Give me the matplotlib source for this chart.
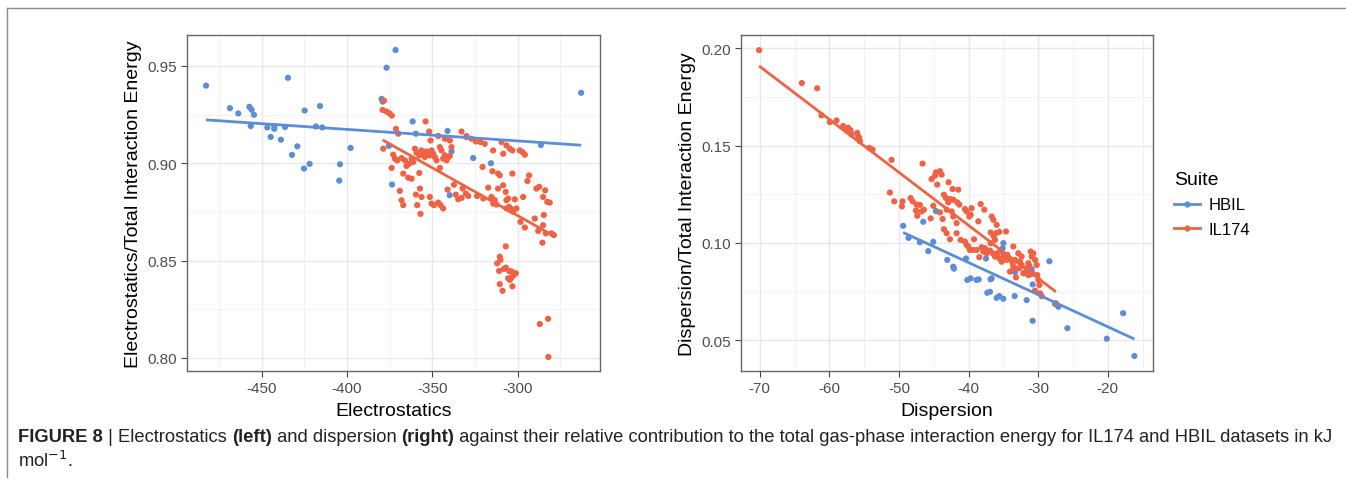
import numpy as np
import matplotlib
matplotlib.use("Agg")
import matplotlib.pyplot as plt
from matplotlib.lines import Line2D

# HBIL, electrostatics panel
hbil_elec = [-482.6, -468.6, -463.7, -457.2, -455.9, -454.5, -456.4, -446.7, -442.6, -442.6,
             -436.3, -444.7, -438.7, -429.1, -432.2, -425.2, -421.9, -424.8, -415.8, -418.2,
             -414.5, -404.1, -404.5, -397.9, -434.6, -379.7, -379.1, -375.4, -373.6, -376.8,
             -371.5, -361.5, -359.6, -341.0, -338.7, -329.9, -326.0, -315.6, -286.3, -262.7,
             -339.8]
hbil_elec_ratio = [0.9399, 0.9283, 0.9256, 0.9290, 0.9275, 0.9249, 0.9191, 0.9184, 0.9191, 0.9177,
                   0.9186, 0.9135, 0.9121, 0.9087, 0.9043, 0.8973, 0.8997, 0.9271, 0.9294, 0.9189,
                   0.9184, 0.8995, 0.8911, 0.9079, 0.9439, 0.9331, 0.9317, 0.9089, 0.8891, 0.9491,
                   0.9582, 0.9215, 0.9152, 0.9166, 0.9061, 0.9140, 0.9027, 0.9000, 0.9094, 0.9362,
                   0.8836]

# IL174, electrostatics panel
il_elec = [-378.3, -379.1, -376.8, -375.2, -373.7, -371.3, -369.9, -378.7, -353.9, -351.8,
           -351.0, -346.5, -342.6, -339.7, -338.7, -332.8, -329.9, -327.0, -324.4, -321.7,
           -319.2, -314.3, -309.4, -308.4, -306.5, -304.5, -303.0, -298.7, -297.1, -295.7,
           -372.9, -371.9, -370.5, -368.0, -366.0, -365.1, -363.5, -362.1, -361.2, -360.2,
           -359.2, -357.6, -356.3, -355.3, -354.3, -353.3, -352.4, -351.4, -350.4, -349.4,
           -348.5, -347.5, -345.5, -344.6, -343.6, -342.6, -341.6, -340.6, -339.7, -345.5,
           -357.6, -367.0, -364.1, -362.1, -373.8, -369.0, -368.0, -367.0, -359.6, -357.2,
           -356.3, -358.8, -356.9, -351.4, -350.4, -349.0, -346.5, -345.1, -343.6, -341.0,
           -337.3, -336.2, -334.8, -332.8, -332.2, -330.3, -328.9, -323.7, -320.5, -320.1,
           -317.2, -315.3, -314.3, -313.3, -312.3, -314.7, -311.4, -310.4, -311.4, -308.4,
           -306.9, -306.5, -305.5, -304.9, -304.1, -303.5, -302.6, -303.0, -301.6, -300.6,
           -306.5, -298.3, -296.7, -295.7, -294.2, -293.2, -289.9, -288.9, -287.3, -287.9,
           -284.6, -285.0, -285.4, -283.8, -285.0, -283.4, -282.6, -281.1, -280.1, -278.7,
           -306.9, -310.4, -310.0, -311.9, -310.8, -308.0, -306.9, -304.9, -303.5, -302.2,
           -301.0, -305.5, -304.5, -303.5, -310.4, -308.8, -303.0, -286.9, -282.1, -281.9]
il_elec_ratio = [0.9322, 0.9274, 0.9266, 0.9257, 0.9245, 0.9177, 0.9152, 0.9075, 0.9215, 0.9163,
                 0.9117, 0.9140, 0.9126, 0.9117, 0.9083, 0.9163, 0.9134, 0.9126, 0.9112, 0.9109,
                 0.9100, 0.9066, 0.9109, 0.9049, 0.9092, 0.9075, 0.9066, 0.9066, 0.9058, 0.9044,
                 0.9044, 0.9024, 0.9015, 0.9027, 0.9015, 0.8986, 0.8998, 0.9024, 0.9006, 0.9075,
                 0.9054, 0.9041, 0.9066, 0.9049, 0.9032, 0.9061, 0.9049, 0.9041, 0.9066, 0.9049,
                 0.9032, 0.9015, 0.9083, 0.9066, 0.9024, 0.9041, 0.9015, 0.9032, 0.9037, 0.8976,
                 0.8950, 0.8947, 0.8926, 0.8921, 0.8976, 0.8858, 0.8810, 0.8785, 0.8839, 0.8870,
                 0.8827, 0.8785, 0.8740, 0.8827, 0.8793, 0.8785, 0.8798, 0.8785, 0.8768, 0.8865,
                 0.8890, 0.8839, 0.8815, 0.8822, 0.8870, 0.8844, 0.8832, 0.8832, 0.8981, 0.8819,
                 0.8875, 0.8827, 0.8793, 0.8810, 0.8788, 0.8959, 0.8947, 0.8938, 0.8870, 0.8887,
                 0.8853, 0.8810, 0.8819, 0.8776, 0.8759, 0.8764, 0.8751, 0.8947, 0.8815, 0.8768,
                 0.8768, 0.8699, 0.8827, 0.8670, 0.8909, 0.8938, 0.8716, 0.8870, 0.8879, 0.8652,
                 0.8734, 0.8682, 0.8592, 0.8861, 0.8827, 0.8640, 0.8802, 0.8798, 0.8640, 0.8631,
                 0.8573, 0.8520, 0.8503, 0.8486, 0.8447, 0.8457, 0.8464, 0.8447, 0.8444, 0.8426,
                 0.8435, 0.8409, 0.8401, 0.8413, 0.8379, 0.8345, 0.8368, 0.8174, 0.8201, 0.8005]

# HBIL, dispersion panel
hbil_disp = [-49.39, -48.62, -46.99, -46.51, -45.79, -45.07, -44.69, -43.06, -42.20, -42.10,
             -40.37, -40.18, -39.70, -38.84, -38.55, -37.50, -37.31, -36.92, -36.83, -36.68,
             -35.96, -35.58, -35.00, -35.00, -35.10, -34.91, -33.37, -33.33, -33.33, -31.65,
             -31.74, -30.93, -31.07, -30.79, -30.79, -28.39, -27.57, -27.09, -25.80, -20.14,
             -17.79, -16.17]
hbil_disp_ratio = [0.1088, 0.1026, 0.1004, 0.1109, 0.0958, 0.1006, 0.1164, 0.0913, 0.0878, 0.0868,
                   0.0920, 0.0810, 0.0818, 0.0810, 0.0813, 0.0920, 0.0744, 0.0749, 0.0813, 0.0818,
                   0.0718, 0.0727, 0.0713, 0.0999, 0.0973, 0.0939, 0.0727, 0.0849, 0.0861, 0.0706,
                   0.0853, 0.0865, 0.0839, 0.0787, 0.0600, 0.0906, 0.0686, 0.0672, 0.0562, 0.0508,
                   0.0639, 0.0419]

# IL174, dispersion panel
il_disp = [-70.10, -63.96, -61.75, -61.13, -59.93, -58.97, -58.02, -57.63, -57.30, -56.96,
           -56.82, -56.00, -55.86, -55.62, -55.71, -54.28, -53.80, -51.06, -46.61, -51.30,
           -50.68, -49.58, -49.48, -48.33, -48.04, -47.47, -46.99, -47.56, -46.75, -46.41,
           -47.37, -45.45, -45.07, -44.83, -44.69, -44.11, -43.87, -45.31, -44.50, -44.11,
           -43.73, -43.54, -43.15, -42.87, -42.29, -41.48, -43.54, -43.25, -42.67, -42.91,
           -42.20, -41.62, -41.33, -43.15, -42.43, -42.20, -41.72, -42.67, -41.72, -41.14,
           -40.52, -40.28, -40.04, -39.80, -40.52, -40.28, -39.89, -39.70, -39.56, -39.22,
           -39.32, -38.84, -38.60, -38.26, -37.74, -38.46, -38.12, -37.88, -37.64, -37.40,
           -36.92, -36.68, -36.44, -36.83, -36.44, -36.20, -36.06, -36.83, -36.54, -36.20,
           -35.87, -35.58, -35.24, -35.48, -35.10, -35.58, -34.62, -35.96, -34.91, -34.52,
           -34.43, -34.05, -33.66, -33.57, -33.57, -33.18, -34.05, -33.33, -32.85, -32.61,
           -32.37, -32.13, -31.65, -31.41, -31.07, -30.93, -30.69, -30.45, -30.21, -30.12,
           -29.97, -29.83, -29.73, -29.49, -30.45, -31.41, -31.27, -30.79, -32.37, -33.33,
           -32.70, -27.45]
il_disp_ratio = [0.1991, 0.1822, 0.1795, 0.1656, 0.1621, 0.1630, 0.1601, 0.1584, 0.1592, 0.1579,
                 0.1558, 0.1566, 0.1549, 0.1523, 0.1541, 0.1489, 0.1480, 0.1427, 0.1408, 0.1259,
                 0.1214, 0.1188, 0.1214, 0.1231, 0.1214, 0.1197, 0.1195, 0.1167, 0.1162, 0.1171,
                 0.1140, 0.1126, 0.1191, 0.1346, 0.1363, 0.1369, 0.1351, 0.1329, 0.1300, 0.1157,
                 0.1123, 0.1071, 0.1050, 0.1312, 0.1277, 0.1274, 0.1248, 0.1231, 0.1226, 0.1209,
                 0.1222, 0.1209, 0.1197, 0.1171, 0.1162, 0.1136, 0.1102, 0.1019, 0.1050, 0.1016,
                 0.1007, 0.0990, 0.0982, 0.0964, 0.1174, 0.1162, 0.1136, 0.1145, 0.1179, 0.1019,
                 0.0964, 0.0964, 0.1111, 0.1200, 0.1171, 0.0927, 0.0978, 0.0956, 0.0973, 0.0947,
                 0.0961, 0.1136, 0.1119, 0.1054, 0.1037, 0.1016, 0.1050, 0.0999, 0.0947, 0.0930,
                 0.0947, 0.0921, 0.0904, 0.0956, 0.0921, 0.1057, 0.1059, 0.1093, 0.0930, 0.0913,
                 0.0939, 0.0916, 0.0896, 0.0878, 0.0982, 0.0823, 0.0853, 0.0913, 0.0947, 0.0904,
                 0.0887, 0.0844, 0.0870, 0.0835, 0.0956, 0.0930, 0.0947, 0.0913, 0.0887, 0.0835,
                 0.0810, 0.0784, 0.0741, 0.0727, 0.0755, 0.0896, 0.0882, 0.0844, 0.0930, 0.0870,
                 0.0870, 0.0690]

suites = ["HBIL", "IL174"]
colours = {"HBIL": "#5B8ED6", "IL174": "#EF6244"}

plt.rcParams['font.family'] = ['Liberation Sans', 'DejaVu Sans']

fig = plt.figure(figsize=(13.46, 5.02), dpi=100)


def style_axes(ax, xticks, yticks, xminor, yminor, xlim, ylim, ytickfmt):
    ax.set_xlim(xlim)
    ax.set_ylim(ylim)
    ax.set_xticks(xticks)
    ax.set_yticks(yticks)
    ax.set_xticks(xminor, minor=True)
    ax.set_yticks(yminor, minor=True)
    ax.set_yticklabels([ytickfmt % v for v in yticks])
    ax.set_xticklabels(["%d" % v for v in xticks])
    ax.grid(True, which="major", color="#E6E8EE", lw=1.0)
    ax.grid(True, which="minor", color="#EFF0F4", lw=0.6)
    ax.set_axisbelow(True)
    ax.tick_params(which="major", length=4, width=0.8, color="#444444",
                   labelsize=11, labelcolor="#4D4D4D", pad=3)
    ax.tick_params(which="minor", length=0)
    for s in ax.spines.values():
        s.set_color("#666666")
        s.set_linewidth(1.0)


def scatter_fit(ax, x, y, colour):
    x = np.asarray(x)
    y = np.asarray(y)
    ax.scatter(x, y, s=20, color=colour, edgecolors="none", zorder=3)
    k, b = np.polyfit(x, y, 1)
    xs = np.array([x.min(), x.max()])
    ax.plot(xs, k * xs + b, color=colour, lw=2.0, zorder=4, solid_capstyle="butt")


ax1 = fig.add_axes([0.1389, 0.2590, 0.3068, 0.6693])
style_axes(ax1, [-450, -400, -350, -300], [0.80, 0.85, 0.90, 0.95],
           [-475, -425, -375, -325, -275], [0.825, 0.875, 0.925],
           (-493.8, -251.7), (0.7933, 0.9659), "%.2f")
scatter_fit(ax1, hbil_elec, hbil_elec_ratio, colours["HBIL"])
scatter_fit(ax1, il_elec, il_elec_ratio, colours["IL174"])
ax1.set_xlabel("Electrostatics", fontsize=14, labelpad=5)
ax1.set_ylabel("Electrostatics/Total Interaction Energy", fontsize=14, labelpad=4)

ax2 = fig.add_axes([0.5505, 0.2590, 0.3061, 0.6693])
style_axes(ax2, [-70, -60, -50, -40, -30, -20], [0.05, 0.10, 0.15, 0.20],
           [-65, -55, -45, -35, -25, -15], [0.075, 0.125, 0.175],
           (-72.7, -13.5), (0.0342, 0.2069), "%.2f")
scatter_fit(ax2, hbil_disp, hbil_disp_ratio, colours["HBIL"])
scatter_fit(ax2, il_disp, il_disp_ratio, colours["IL174"])
ax2.set_xlabel("Dispersion", fontsize=14, labelpad=5)
ax2.set_ylabel("Dispersion/Total Interaction Energy", fontsize=14, labelpad=4)

handles = [Line2D([0], [0], color=colours[s], lw=2.0, marker="o", markersize=4.5,
                  markeredgewidth=0) for s in suites]
leg = fig.legend(handles, suites, title="Suite", loc="upper left",
                 bbox_to_anchor=(0.867, 0.67), frameon=False, fontsize=12,
                 title_fontsize=14, handlelength=1.6, handletextpad=0.5,
                 labelspacing=0.55, borderaxespad=0)
leg._legend_box.align = "left"

# figure frame (top and left rules)
fig.add_artist(Line2D([7 / 1346, 7 / 1346], [1 - 9 / 502, 1 - 478 / 502],
                      transform=fig.transFigure, color="#8A8A8A", lw=1.0))
fig.add_artist(Line2D([7 / 1346, 1.0], [1 - 9 / 502, 1 - 9 / 502],
                      transform=fig.transFigure, color="#8A8A8A", lw=1.0))

# caption, pieces chained left to right
cap_font = ['Liberation Sans Narrow', 'Liberation Sans', 'DejaVu Sans']
pieces = [("FIGURE 8", "bold"), (" | Electrostatics ", "normal"), ("(left)", "bold"),
          (" and dispersion ", "normal"), ("(right)", "bold"),
          (" against their relative contribution to the total gas-phase interaction energy "
           "for IL174 and HBIL datasets in kJ", "normal")]
renderer = fig.canvas.get_renderer()
x = 18 / 1346
for txt, w in pieces:
    t = fig.text(x, 1 - 438 / 502, txt, fontsize=13.2, fontweight=w, va="center",
                 family=cap_font, color="#222222")
    bb = t.get_window_extent(renderer)
    x = bb.x1 / fig.bbox.width
fig.text(18 / 1346, 1 - 461 / 502, r"mol$^{-1}$.", fontsize=13.2, va="center",
         family=cap_font, color="#222222")

fig.savefig("out.png", dpi=100)
